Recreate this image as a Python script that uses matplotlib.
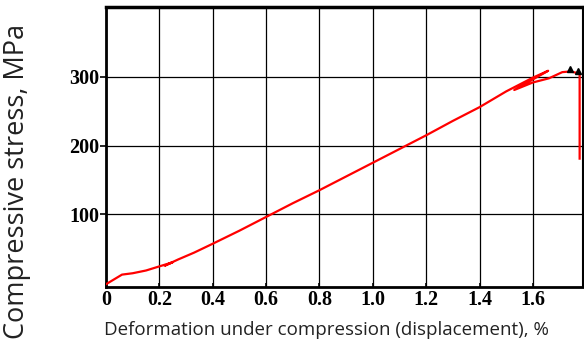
import matplotlib
matplotlib.use("Agg")
import matplotlib.pyplot as plt

# Data
strain = [0.0, 0.03, 0.06, 0.10, 0.15, 0.20, 0.25, 0.22, 0.27, 0.33, 0.40, 0.50,
          0.60, 0.70, 0.80, 0.90, 1.00, 1.10, 1.20, 1.30, 1.40, 1.50, 1.60,
          1.657, 1.53, 1.60, 1.66, 1.71, 1.74, 1.775, 1.775]
stress = [-2, 5, 12, 14, 18, 24, 30, 25, 34, 44, 57, 76,
          96, 116, 135, 155, 175, 195, 215, 236, 256, 279, 299,
          309, 281, 292, 298, 307, 308, 305, 181]
peak_x = [1.738, 1.770]
peak_y = [311, 308]

x_ticks = [0, 0.2, 0.4, 0.6, 0.8, 1.0, 1.2, 1.4, 1.6]
x_tick_labels = ["0", "0.2", "0.4", "0.6", "0.8", "1.0", "1.2", "1.4", "1.6"]
y_ticks = [100, 200, 300]
y_tick_labels = ["100", "200", "300"]

fig = plt.figure(figsize=(5.84, 3.47), dpi=100)
ax = fig.add_axes([0.1815, 0.173, 0.8165, 0.807])

ax.plot(strain, stress, color="#ff0000", lw=1.6, zorder=3)
ax.plot(peak_x, peak_y, linestyle="none", marker="^", color="black", ms=4, zorder=4)

ax.set_xlim(0, 1.787)
ax.set_ylim(-6, 402)
ax.set_xticks(x_ticks)
ax.set_xticklabels(x_tick_labels)
ax.set_yticks(y_ticks)
ax.set_yticklabels(y_tick_labels)

ax.grid(True, color="black", lw=0.9)
ax.set_axisbelow(True)

for lab in ax.get_xticklabels() + ax.get_yticklabels():
    lab.set_fontfamily("Liberation Serif")
    lab.set_fontweight("bold")
    lab.set_fontsize(14.5)

ax.tick_params(axis="y", direction="out", length=4, width=1.2, pad=1, colors="black")
ax.tick_params(axis="x", direction="in", length=3, width=1.2, pad=2, colors="black")

ax.spines["left"].set_linewidth(2.0)
ax.spines["bottom"].set_linewidth(2.0)
ax.spines["top"].set_linewidth(2.5)
ax.spines["right"].set_linewidth(1.5)

fig.text(0.559, 0.049, "Deformation under compression (displacement), %",
         ha="center", va="center", fontsize=13.5, family="Open Sans", color="#222222")
fig.text(0.029, 0.478, "Compressive stress, MPa", rotation=90,
         ha="center", va="center", fontsize=19.5, family="Open Sans", color="#222222")

fig.savefig("out.png", dpi=100)
